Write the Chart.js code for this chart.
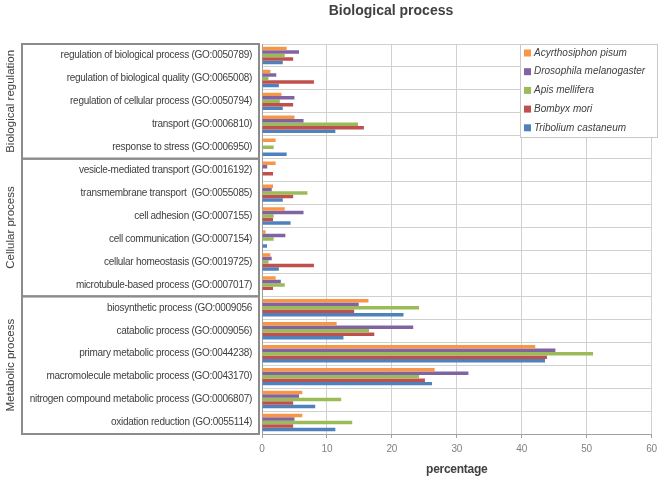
<!DOCTYPE html>
<html>
<head>
<meta charset="utf-8">
<script src="https://cdn.jsdelivr.net/npm/chart.js@4/dist/chart.umd.min.js"></script>
<style>
html,body{margin:0;padding:0;background:#fff;}
#wrap{width:662px;height:480px;position:relative;}
</style>
</head>
<body>
<div id="wrap"><canvas id="c" width="662" height="480"></canvas></div>
<script>
const categories = [
  'regulation of biological process (GO:0050789)',
  'regulation of biological quality (GO:0065008)',
  'regulation of cellular process (GO:0050794)',
  'transport (GO:0006810)',
  'response to stress (GO:0006950)',
  'vesicle-mediated transport (GO:0016192)',
  'transmembrane transport  (GO:0055085)',
  'cell adhesion (GO:0007155)',
  'cell communication (GO:0007154)',
  'cellular homeostasis (GO:0019725)',
  'microtubule-based process (GO:0007017)',
  'biosynthetic process (GO:0009056',
  'catabolic process (GO:0009056)',
  'primary metabolic process (GO:0044238)',
  'macromolecule metabolic process (GO:0043170)',
  'nitrogen compound metabolic process (GO:0006807)',
  'oxidation reduction (GO:0055114)'
];
const seriesNames = ['Acyrthosiphon pisum','Drosophila melanogaster','Apis mellifera','Bombyx mori','Tribolium castaneum'];
const acyrthosiphon = [3.8,1.3,3.0,5.0,2.1, 2.1,1.7,3.5,0.56,1.3,2.1, 16.4,11.5,42.1,26.6,6.2,6.2];
const drosophila    = [5.7,2.2,5.0,6.4,0,   0.8,1.5,6.4,3.6,1.5,2.9,  14.9,23.3,45.2,31.8,5.7,5.0];
const apis          = [3.5,1.0,2.75,14.8,1.8, 0,7.0,1.8,1.8,1.0,3.5,  24.2,16.5,51.0,24.2,12.2,13.9];
const bombyx        = [4.8,8.0,4.8,15.7,0,  1.7,4.8,1.7,0,8.0,1.7,    14.2,17.3,43.9,25.1,4.8,4.8];
const tribolium     = [3.2,2.6,3.2,11.3,3.8, 0,3.2,4.4,0.77,2.6,0,    21.8,12.55,43.6,26.2,8.2,11.3];
const xTicks = [0,10,20,30,40,50,60];
const groupNames = ['Biological regulation','Cellular process','Metabolic process'];
const groupStarts = [0,5,11];
const groupEnds = [4,10,16];
const chartTitle = 'Biological process';

const colors = ['#F79646','#8064A2','#9BBB59','#C0504D','#4F81BD'];
const values = [acyrthosiphon, drosophila, apis, bombyx, tribolium];
const FONT = "'Liberation Sans', Arial, sans-serif";

const decor = {
  id: 'decor',
  beforeDraw(chart) {
    chart.ctx.letterSpacing = '-0.28px';
  },
  afterDraw(chart) {
    const ctx = chart.ctx;
    const y = chart.scales.y;
    ctx.save();
    ctx.letterSpacing = '0px';
    // title
    ctx.fillStyle = '#404040';
    ctx.font = "bold 14px " + FONT;
    ctx.textAlign = 'center';
    ctx.textBaseline = 'middle';
    ctx.fillText(chartTitle, 391, 11);
    // group boxes
    const boxL = 22, boxR = 259;
    ctx.strokeStyle = '#8C8C8C';
    ctx.lineWidth = 2;
    const half = (y.getPixelForValue(1) - y.getPixelForValue(0)) / 2;
    for (let g = 0; g < groupNames.length; g++) {
      const top = y.getPixelForValue(groupStarts[g]) - half;
      const bot = y.getPixelForValue(groupEnds[g]) + half;
      ctx.strokeRect(boxL, top, boxR - boxL, bot - top);
      ctx.save();
      ctx.translate(11, (top + bot) / 2);
      ctx.rotate(-Math.PI / 2);
      ctx.fillStyle = '#404040';
      ctx.font = "11.5px " + FONT;
      ctx.textAlign = 'center';
      ctx.textBaseline = 'middle';
      ctx.fillText(groupNames[g], 0, 0);
      ctx.restore();
    }
    // legend
    const lx = 520, ly = 44, lw = 137, lh = 93;
    ctx.fillStyle = '#fff';
    ctx.fillRect(lx, ly, lw, lh);
    ctx.strokeStyle = '#C8C8C8';
    ctx.lineWidth = 1;
    ctx.strokeRect(lx + 0.5, ly + 0.5, lw, lh);
    ctx.font = "italic 10px " + FONT;
    ctx.textBaseline = 'middle';
    ctx.textAlign = 'left';
    chart.data.datasets.forEach((ds, i) => {
      const cy = 53 + i * 18.7;
      ctx.fillStyle = ds.backgroundColor;
      ctx.fillRect(524, cy - 3.5, 7, 7);
      ctx.fillStyle = '#404040';
      ctx.fillText(ds.label, 534, cy);
    });
    ctx.restore();
  }
};

new Chart(document.getElementById('c'), {
  type: 'bar',
  data: {
    labels: categories,
    datasets: seriesNames.map((n, i) => ({
      label: n,
      data: values[i],
      backgroundColor: colors[i],
      borderWidth: 0,
      categoryPercentage: 0.76,
      barPercentage: 1.0
    }))
  },
  options: {
    indexAxis: 'y',
    responsive: false,
    animation: false,
    layout: { padding: { left: 0, right: 8, top: 44, bottom: 0 } },
    plugins: {
      legend: { display: false },
      tooltip: { enabled: false },
      title: { display: false }
    },
    scales: {
      x: {
        min: 0, max: 60,
        afterBuildTicks(scale) { scale.ticks = xTicks.map(v => ({ value: v })); },
        afterFit(scale) { scale.height = 46; },
        ticks: { color: '#808080', font: { family: FONT, size: 10 }, padding: 5 },
        grid: { color: '#D0D0D0', lineWidth: 1, tickLength: 4, tickColor: '#A0A0A0' },
        border: { color: '#A0A0A0', width: 1 },
        title: { display: true, text: 'percentage', color: '#404040',
                 font: { family: FONT, size: 12, weight: 'bold' }, padding: { top: 2, bottom: 3 } }
      },
      y: {
        afterFit(scale) { scale.width = 262; },
        ticks: { color: '#404040', font: { family: FONT, size: 10 }, padding: 10, autoSkip: false },
        grid: { color: '#D0D0D0', lineWidth: 1, drawTicks: false, offset: true },
        border: { color: '#A0A0A0', width: 1 }
      }
    }
  },
  plugins: [decor]
});
</script>
</body>
</html>
